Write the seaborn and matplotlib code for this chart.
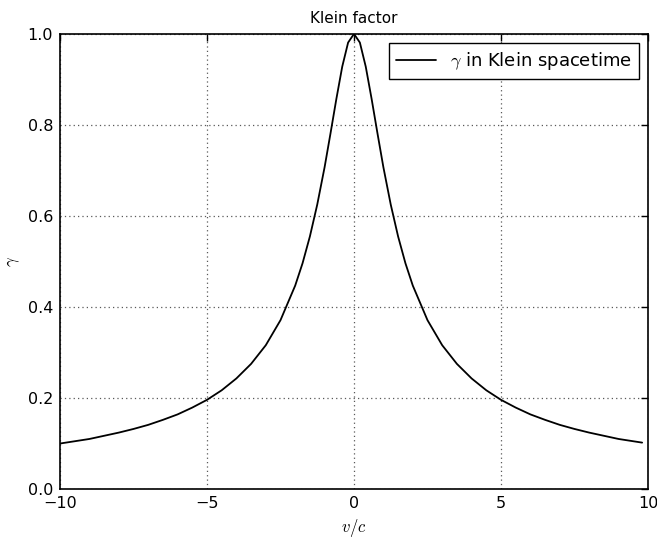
import numpy as np
import pandas as pd
import matplotlib
matplotlib.use("Agg")
import matplotlib.pyplot as plt
import seaborn as sns

# values
v_c = [-10, -9.5, -9, -8.5, -8, -7.5, -7, -6.5, -6, -5.5, -5, -4.5, -4, -3.5,
       -3, -2.5, -2, -1.75, -1.5, -1.25, -1, -0.8, -0.6, -0.4, -0.2, 0,
       0.2, 0.4, 0.6, 0.8, 1, 1.25, 1.5, 1.75, 2, 2.5, 3, 3.5, 4, 4.5, 5,
       5.5, 6, 6.5, 7, 7.5, 8, 8.5, 9, 9.5, 9.8]
gamma = [0.100, 0.105, 0.110, 0.117, 0.124, 0.132, 0.141, 0.152, 0.164, 0.179,
         0.196, 0.217, 0.243, 0.275, 0.316, 0.371, 0.447, 0.496, 0.555, 0.625,
         0.707, 0.781, 0.857, 0.928, 0.981, 1.000,
         0.981, 0.928, 0.857, 0.781, 0.707, 0.625, 0.555, 0.496, 0.447, 0.371,
         0.316, 0.275, 0.243, 0.217, 0.196, 0.179, 0.164, 0.152, 0.141, 0.132,
         0.124, 0.117, 0.110, 0.105, 0.102]

df = pd.DataFrame({"v": v_c, "gamma": gamma})

sns.set_theme(style="white")
plt.rcParams["font.family"] = ["DejaVu Sans"]
plt.rcParams["mathtext.fontset"] = "cm"
plt.rcParams["text.color"] = "black"
plt.rcParams["axes.labelcolor"] = "black"

fig = plt.figure(figsize=(6.57, 5.38), dpi=100)
ax = fig.add_axes([0.0913, 0.091, 0.895, 0.846])

sns.lineplot(data=df, x="v", y="gamma", ax=ax, color="black", linewidth=1.3,
             label=r"$\gamma$ in Klein spacetime", sort=False)

ax.set_xlim(-10, 10)
ax.set_ylim(0, 1)
ax.set_xticks([-10, -5, 0, 5, 10])
ax.set_yticks([0.0, 0.2, 0.4, 0.6, 0.8, 1.0])
ax.set_yticklabels(["0.0", "0.2", "0.4", "0.6", "0.8", "1.0"])
ax.grid(True, color="0.35", linestyle=(0, (1, 2.5)), linewidth=0.9)
ax.tick_params(direction="in", top=True, right=True, length=5, width=1,
               labelsize=11.5, colors="black", pad=5)
for s in ax.spines.values():
    s.set_color("black")
    s.set_linewidth(1.2)

ax.set_title("Klein factor", fontsize=11, pad=8, color="black")
ax.set_xlabel(r"$v/c$", fontsize=12)
ax.set_ylabel(r"$\gamma$", fontsize=12)

leg = ax.legend(loc="upper right", fontsize=13, fancybox=False, framealpha=1,
                edgecolor="black", handlelength=2.2, borderpad=0.4)
leg.get_frame().set_linewidth(1.0)
for t in leg.get_texts():
    t.set_color("black")

fig.savefig("out.png", dpi=100)
